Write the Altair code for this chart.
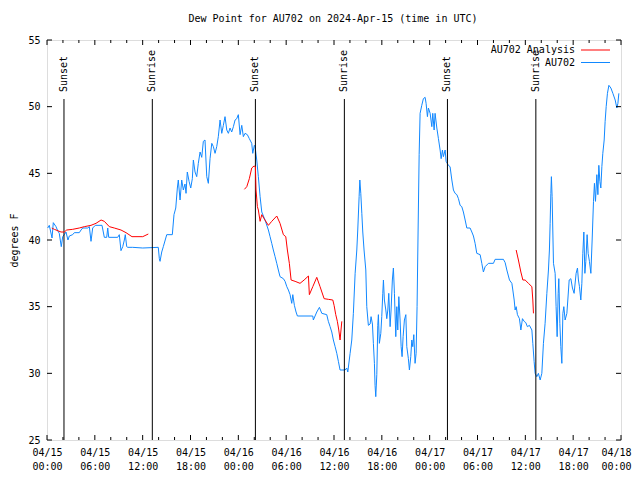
import json
import altair as alt
import pandas as pd

# ---------------- data (hours since 2024-04-15 00:00 UTC, dew point in F) ----------------
obs_hours = [0.09, 0.29, 0.63, 0.79, 1.13, 1.34, 1.54, 1.79, 1.97, 2.17, 2.38, 2.63, 2.80, 3.22, 3.43,
             4.05, 4.27, 4.48, 5.11, 5.31, 5.52, 5.73, 6.06, 6.90, 7.19, 7.49, 7.62, 7.74, 8.87, 9.07,
             9.28, 9.50, 9.70, 9.82, 10.00, 10.13, 10.75, 12.01, 13.96, 14.09, 14.18, 14.39, 14.59,
             15.02, 15.72, 15.93, 16.15, 16.35, 16.47, 16.69, 16.90, 17.10, 17.31, 17.44, 17.60, 17.82,
             18.03, 18.23, 18.36, 18.57, 18.78, 18.98, 19.20, 19.41, 19.61, 19.82, 20.04, 20.24, 20.45,
             20.67, 20.87, 21.08, 21.29, 21.49, 21.71, 21.92, 22.12, 22.33, 22.55, 22.75, 22.96, 23.17,
             23.38, 23.59, 23.80, 24.00, 24.22, 24.43, 24.63, 24.84, 25.13, 25.38, 25.68, 25.81, 26.01,
             26.10, 26.31, 26.51, 26.73, 26.94, 27.35, 27.77, 27.98, 28.19, 28.39, 28.61, 28.82, 29.02,
             29.23, 29.65, 29.86, 30.08, 30.28, 30.49, 30.70, 30.83, 31.03, 31.24, 31.41, 33.34, 33.41,
             33.84, 34.17, 34.47, 35.09, 35.29, 35.51, 35.72, 35.92, 36.14, 36.35, 36.55, 36.76, 37.39,
             37.60, 37.73, 38.02, 38.23, 38.43, 38.65, 38.86, 38.98, 39.15, 39.24, 39.36, 39.49, 39.61,
             39.77, 39.99, 40.11, 40.31, 40.53, 40.65, 40.82, 40.94, 41.07, 41.15, 41.24, 41.37, 41.49,
             41.57, 41.69, 41.87, 41.99, 42.12, 42.20, 42.32, 42.50, 42.62, 42.75, 42.87, 43.04, 43.16,
             43.32, 43.45, 43.58, 43.75, 43.88, 44.00, 44.13, 44.29, 44.42, 44.54, 44.67, 44.83, 45.01,
             45.13, 45.33, 45.46, 45.63, 45.76, 45.88, 46.01, 46.17, 46.30, 46.42, 46.55, 46.68, 46.80,
             47.01, 47.21, 47.43, 47.55, 47.72, 47.84, 48.06, 48.27, 48.39, 48.56, 48.68, 48.90, 49.10,
             49.31, 49.44, 49.60, 49.72, 49.94, 50.06, 50.35, 50.56, 50.78, 50.98, 51.19, 51.41, 51.61,
             51.82, 52.03, 52.23, 52.45, 52.66, 53.07, 53.29, 53.49, 53.70, 53.91, 54.33, 54.54, 54.74,
             54.96, 55.37, 56.00, 56.21, 57.25, 57.47, 57.68, 58.01, 58.31, 58.43, 58.60, 58.72, 58.85,
             59.01, 59.26, 59.44, 59.64, 59.85, 60.06, 60.26, 60.51, 60.82, 60.94, 61.10, 61.23, 61.44,
             61.64, 61.86, 62.07, 62.27, 62.48, 62.70, 62.90, 63.02, 63.11, 63.20, 63.27, 63.36, 63.53,
             63.74, 63.86, 63.99, 64.12, 64.20, 64.33, 64.45, 64.58, 64.71, 64.83, 64.99, 65.21, 65.33,
             65.50, 65.71, 65.91, 66.12, 66.37, 66.54, 66.66, 66.79, 66.96, 67.09, 67.21, 67.34, 67.47,
             67.59, 67.75, 67.88, 68.04, 68.22, 68.38, 68.55, 68.67, 68.80, 68.97, 69.10, 69.22, 69.35,
             69.47, 69.60, 69.72, 69.89, 70.01, 70.14, 70.30, 70.48, 70.73, 70.98, 71.27, 71.48, 71.61,
             71.73]
obs_values = [40.9, 41.1, 40.15, 41.3, 41.0, 40.7, 40.5, 39.5, 40.25, 40.4, 40.6, 40.0, 40.3, 40.4, 40.55,
              40.55, 40.75, 40.9, 40.9, 41.0, 39.9, 40.9, 41.1, 41.1, 40.2, 40.2, 40.9, 40.2, 40.2, 40.4,
              39.2, 39.5, 40.0, 40.4, 39.5, 39.45, 39.45, 39.4, 39.45, 38.6, 38.4, 39.1, 39.5,
              40.4, 40.4, 41.9, 42.4, 43.9, 44.5, 43.0, 44.5, 43.75, 44.2, 43.5, 45.1, 44.4,
              43.9, 44.6, 46.0, 45.1, 44.75, 45.75, 46.6, 46.2, 47.4, 47.5, 44.75, 44.25, 46.1,
              47.25, 47.0, 46.5, 47.0, 47.75, 49.0, 48.0, 48.6, 49.25, 48.25, 48.0, 48.4, 48.1,
              48.5, 49.0, 49.1, 49.4, 47.9, 48.6, 47.75, 48.0, 47.9, 47.6, 47.25, 46.5, 47.1,
              47.0, 46.0, 44.75, 43.25, 42.1, 41.5, 40.75, 40.25, 39.75, 39.25, 38.75, 38.25, 37.75,
              37.25, 37.1, 36.9, 36.5, 36.25, 35.9, 35.25, 35.9, 35.1, 34.6, 34.3, 34.3, 34.0,
              34.6, 34.95, 34.5, 34.4, 33.9, 33.5, 33.1, 32.5, 32.0, 31.5, 30.9, 30.25, 30.25,
              30.4, 30.1, 31.5, 32.5, 34.5, 37.5, 39.25, 40.75, 43.25, 44.5, 43.5, 42.0, 40.6,
              39.25, 37.75, 35.0, 33.6, 33.7, 34.25, 33.7, 32.25, 30.75, 29.1, 28.25, 29.9, 33.6,
              34.4, 32.25, 33.0, 34.25, 36.0, 37.0, 35.5, 34.75, 34.1, 34.75, 36.0, 33.5, 34.75,
              37.0, 37.9, 36.0, 32.75, 35.0, 33.25, 35.75, 34.0, 32.0, 31.25, 32.75, 34.0, 34.4,
              32.0, 31.1, 30.25, 31.25, 32.5, 32.0, 32.9, 30.75, 31.5, 35.0, 40.75, 46.4, 49.5,
              50.1, 50.6, 50.7, 50.25, 49.25, 49.9, 49.5, 48.5, 49.5, 48.25, 49.5, 48.4, 47.6,
              46.75, 46.1, 46.75, 46.25, 46.75, 45.9, 45.6, 45.5, 44.5, 43.75, 43.5, 43.4, 43.1,
              42.6, 42.5, 42.1, 41.5, 40.9, 40.9, 40.6, 40.3, 39.75, 39.0, 38.9, 38.25, 37.6,
              38.0, 38.25, 38.25, 38.55, 38.55, 38.3, 37.75, 37.0, 36.75, 36.25, 35.5, 34.75, 35.0,
              34.4, 34.1, 33.25, 34.1, 33.9, 33.8, 33.5, 33.6, 33.25, 32.25, 30.9, 30.0, 29.75,
              30.0, 29.5, 30.0, 32.25, 33.75, 36.0, 37.75, 39.25, 41.25, 43.5, 44.75, 43.25, 38.25,
              37.5, 35.0, 32.75, 36.0, 37.1, 33.75, 32.0, 30.75, 34.5, 35.0, 34.0, 34.5, 35.5,
              37.0, 37.1, 36.4, 36.0, 37.5, 37.9, 37.0, 36.5, 35.5, 36.75, 39.0, 40.6, 37.5,
              38.4, 40.4, 39.0, 38.4, 37.5, 40.0, 42.9, 44.25, 42.9, 44.9, 43.4, 45.6, 44.4,
              43.9, 45.5, 46.5, 47.5, 48.9, 50.0, 51.0, 51.6, 51.4, 51.0, 50.5, 49.9, 50.25,
              51.0]

ana1_hours = [0.6, 0.92, 1.76, 2.17, 2.47, 3.22, 4.05, 4.68, 5.52, 6.15, 6.78, 7.19, 7.82, 8.44, 9.28,
              9.91, 10.66, 12.01, 12.71]
ana1_values = [40.9, 40.8, 40.6, 40.6, 40.75, 40.8, 40.9, 41.0, 41.1, 41.25, 41.5, 41.4, 41.0, 40.9, 40.75,
               40.55, 40.25, 40.25, 40.45]
ana2_hours = [24.76, 25.06, 25.38, 25.68, 25.97, 26.14, 26.22, 26.39, 26.51, 26.73, 26.94, 27.23, 27.77,
              28.19, 28.82, 29.23, 29.65, 29.95, 30.15, 30.40, 30.62, 31.12, 31.74, 32.25, 32.79, 32.91,
              33.34, 33.84, 34.25, 34.76, 35.29, 35.85, 36.01, 36.22, 36.42, 36.60, 36.76, 36.98]
ana2_values = [43.8, 44.0, 44.6, 45.4, 45.55, 45.5, 43.75, 42.5, 42.25, 41.4, 41.9, 41.6, 41.1,
               41.4, 41.8, 41.25, 40.4, 40.25, 39.25, 38.25, 37.0, 36.9, 36.75, 37.0, 37.3, 35.9,
               36.5, 37.2, 36.5, 35.6, 35.55, 35.5, 35.1, 34.4, 33.9, 33.25, 32.5, 33.9]
ana3_hours = [58.85, 59.13, 59.44, 59.69, 59.97, 60.39, 60.82, 60.94, 61.02]
ana3_values = [39.25, 38.5, 37.6, 37.0, 37.0, 36.75, 36.5, 35.5, 34.5]

sun_hours = [2.13, 13.21, 26.14, 37.30, 50.23, 61.32]
sun_labels = ["Sunset", "Sunrise", "Sunset", "Sunrise", "Sunset", "Sunrise"]

x_tick_hours = [0, 6, 12, 18, 24, 30, 36, 42, 48, 54, 60, 66, 72]
x_tick_days = ["04/15", "04/15", "04/15", "04/15", "04/16", "04/16", "04/16", "04/16",
               "04/17", "04/17", "04/17", "04/17", "04/18"]
x_tick_times = ["00:00", "06:00", "12:00", "18:00", "00:00", "06:00", "12:00", "18:00",
                "00:00", "06:00", "12:00", "18:00", "00:00"]
x_minor_hours = [2, 4, 8, 10, 14, 16, 20, 22, 26, 28, 32, 34, 38, 40, 44, 46, 50, 52, 56, 58, 62, 64, 68, 70]
y_ticks = [25, 30, 35, 40, 45, 50, 55]

title_text = "Dew Point for AU702 on 2024-Apr-15 (time in UTC)"
legend_names = ["AU702 Analysis", "AU702"]
RED = "#ff0000"
BLUE = "#1188ff"
FONT = "DejaVu Sans Mono"

# ---------------- build tables ----------------
obs = pd.DataFrame({"h": obs_hours, "v": obs_values})
ana = pd.concat([
    pd.DataFrame({"h": ana1_hours, "v": ana1_values, "seg": 1}),
    pd.DataFrame({"h": ana2_hours, "v": ana2_values, "seg": 2}),
    pd.DataFrame({"h": ana3_hours, "v": ana3_values, "seg": 3}),
])
sun = pd.DataFrame({"h": sun_hours, "label": sun_labels})
major = pd.DataFrame({"h": x_tick_hours})
minor = pd.DataFrame({"h": x_minor_hours})
yt = pd.DataFrame({"v": y_ticks})
leg = pd.DataFrame({"name": legend_names})
ttl = pd.DataFrame({"t": [title_text]})

W, H = 574, 400
xs = alt.Scale(domain=[0, 72], nice=False, zero=False)
ys = alt.Scale(domain=[25, 55], nice=False, zero=False)

pairs = [[d, t] for d, t in zip(x_tick_days, x_tick_times)]
label_expr = json.dumps(pairs) + "[round(datum.value / 6)]"

x_axis = alt.Axis(values=x_tick_hours, labelExpr=label_expr, ticks=False, domain=False, grid=False,
                  labelPadding=7, labelFont=FONT, labelFontSize=10, labelColor="black",
                  labelLineHeight=14, labelOverlap=False, labelFlush=False, labelBound=False,
                  labelOffset={"condition": {"test": "datum.value >= 72", "value": -5}, "value": 0},
                  title=None)
y_axis = alt.Axis(values=y_ticks, ticks=False, domain=False, grid=False, labelPadding=7,
                  labelFont=FONT, labelFontSize=10, labelColor="black", labelOverlap=False,
                  labelFlush=False, title="degrees F", titleFont=FONT, titleFontSize=10,
                  titleFontWeight="normal", titleColor="black", titlePadding=8)


def X(field="h:Q"):
    return alt.X(field, scale=xs, axis=x_axis)


def Y(field="v:Q"):
    return alt.Y(field, scale=ys, axis=y_axis)


obs_line = alt.Chart(obs).mark_line(color=BLUE, strokeWidth=1).encode(x=X(), y=Y())
ana_line = alt.Chart(ana).mark_line(color=RED, strokeWidth=1).encode(x=X(), y=Y(), detail="seg:N")

sun_rules = alt.Chart(sun).mark_rule(color="black", strokeWidth=1).encode(
    x=X(), y=alt.value(59), y2=alt.value(H))
sun_text = alt.Chart(sun).mark_text(angle=270, align="left", baseline="middle", font=FONT,
                                    fontSize=10, color="black").encode(
    x=X(), y=alt.value(52), text="label:N")


def xticks(df, length, top):
    if top:
        return alt.Chart(df).mark_rule(color="black").encode(
            x=X(), y=alt.value(0), y2=alt.value(length))
    return alt.Chart(df).mark_rule(color="black").encode(
        x=X(), y=alt.value(H - length), y2=alt.value(H))


yl = alt.Chart(yt).mark_rule(color="black").encode(y=Y(), x=alt.value(0), x2=alt.value(5))
yr = alt.Chart(yt).mark_rule(color="black").encode(y=Y(), x=alt.value(W - 5), x2=alt.value(W))

leg_layers = []
for i, (name, col) in enumerate(zip(legend_names, [RED, BLUE])):
    yy = 10 + i * 12.5
    leg_layers.append(
        alt.Chart(leg).transform_filter(alt.datum.name == name).mark_text(
            align="right", baseline="middle", font=FONT, fontSize=10, color="black"
        ).encode(x=alt.value(528), y=alt.value(yy), text="name:N"))
    leg_layers.append(
        alt.Chart(leg).transform_filter(alt.datum.name == name).mark_rule(
            strokeWidth=1, color=col
        ).encode(x=alt.value(534), x2=alt.value(563), y=alt.value(yy)))

title_layer = alt.Chart(ttl).mark_text(align="center", baseline="middle", font=FONT, fontSize=10,
                                       color="black").encode(
    x=alt.value(286), y=alt.value(-21), text="t:N")

chart = alt.layer(
    obs_line, sun_rules, sun_text,
    xticks(major, 5, False), xticks(major, 5, True), xticks(minor, 3, False), xticks(minor, 3, True),
    yl, yr,
    ana_line,
    *leg_layers,
    title_layer,
).properties(
    width=W, height=H,
    autosize=alt.AutoSizeParams(type="none"),
    padding={"left": 39, "top": 32, "right": 11, "bottom": 32},
).configure_view(stroke="black", strokeWidth=1).configure(background="white")

chart.save("out.html", embed_options={"renderer": "svg", "actions": False})
